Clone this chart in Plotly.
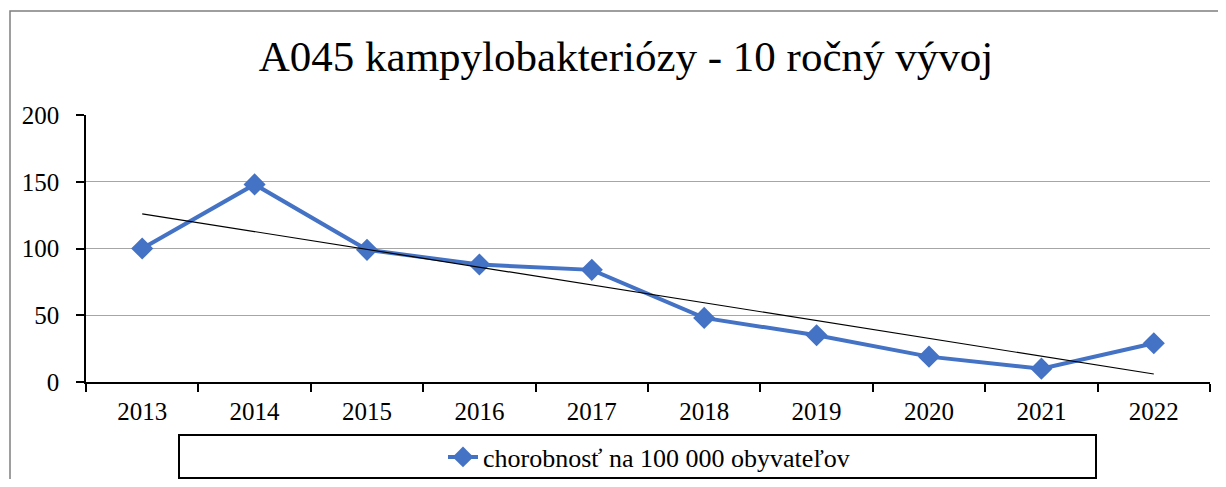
import numpy as np
import plotly.graph_objects as go

years = ["2013", "2014", "2015", "2016", "2017", "2018", "2019", "2020", "2021", "2022"]
values = [100, 148, 99, 88, 84, 48, 35, 19, 10, 29]
y_ticks = [0, 50, 100, 150, 200]
title_text = "A045 kampylobakteriózy - 10 ročný vývoj"
series_name = "chorobnosť na 100 000 obyvateľov"

# linear trendline computed from the data
xi = np.arange(len(values))
slope, intercept = np.polyfit(xi, values, 1)
trend = slope * xi + intercept

OFF = 8  # page body margin on every side
W, H = 1226 - 2 * OFF, 487 - 2 * OFF
L, T = 86 - OFF, 115 - OFF
R = W - (1210 - OFF)
B = H - (382 - OFF)
PW, PH = W - L - R, H - T - B

def px(x):
    return (x - OFF - L) / PW

def py(y):
    return (H - B - (y - OFF)) / PH

FONT = "Liberation Serif"
BLUE = "#4472C4"

fig = go.Figure()
fig.add_trace(go.Scatter(
    x=years, y=values, mode="lines+markers", name=series_name,
    line=dict(color=BLUE, width=4),
    marker=dict(symbol="diamond", size=17, color=BLUE),
))
fig.add_trace(go.Scatter(
    x=years, y=trend, mode="lines", showlegend=False,
    line=dict(color="black", width=1.2), hoverinfo="skip",
))

fig.update_layout(
    width=W, height=H,
    margin=dict(l=L, r=R, t=T, b=B, autoexpand=False),
    paper_bgcolor="white", plot_bgcolor="white",
    font=dict(family=FONT, color="black", size=25),
    title=dict(text=title_text, x=(626 - OFF) / W, xref="container", xanchor="center",
               y=1 - (56 - OFF) / H, yref="container", yanchor="middle",
               font=dict(family=FONT, size=43, color="black")),
    showlegend=True,
    legend=dict(x=px(649), y=py(457), xanchor="center", yanchor="middle",
                orientation="h", bgcolor="rgba(0,0,0,0)",
                font=dict(family=FONT, size=26, color="black")),
    shapes=[
        dict(type="rect", xref="paper", yref="paper",
             x0=px(10), x1=px(1240), y0=py(500), y1=py(11),
             line=dict(color="#7f7f7f", width=1.5), fillcolor="rgba(0,0,0,0)", layer="below"),
        dict(type="rect", xref="paper", yref="paper",
             x0=px(179), x1=px(1096), y0=py(478), y1=py(435),
             line=dict(color="black", width=2), fillcolor="rgba(0,0,0,0)"),
    ],
)

fig.update_xaxes(
    type="category", range=[-0.5, len(years) - 0.5], autorange=False,
    showgrid=False, showline=True, linecolor="black", linewidth=1.5,
    ticks="outside", tickson="boundaries", ticklen=8, tickcolor="black", tickwidth=1.5,
    ticklabelstandoff=6, tickfont=dict(family=FONT, size=25, color="black"),
)
fig.update_yaxes(
    range=[0, 200], tickvals=y_ticks, showgrid=True, gridcolor="#a6a6a6", gridwidth=1.3,
    showline=True, linecolor="black", linewidth=1.5, zeroline=False,
    ticks="outside", ticklen=8, tickcolor="black", tickwidth=1.5,
    ticklabelstandoff=12, tickfont=dict(family=FONT, size=25, color="black"),
)

fig.write_html("out.html")
